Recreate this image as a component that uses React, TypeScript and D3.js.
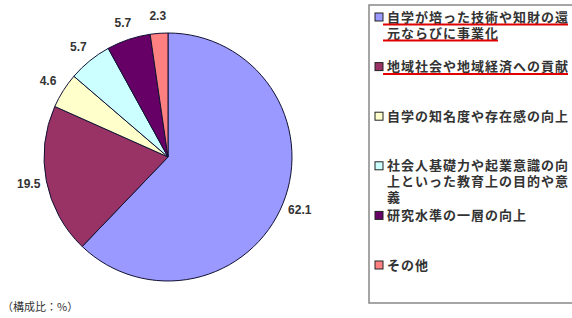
import React, { useEffect, useRef } from "react";
import * as d3 from "d3";

// values in the order they run clockwise from 12 o'clock
const shares = [62.1, 19.5, 4.6, 5.7, 5.7, 2.3];
const labels = ["62.1", "19.5", "4.6", "5.7", "5.7", "2.3"];
const colors = ["#9999ff", "#993366", "#ffffcc", "#ccffff", "#660066", "#ff8080"];
const legendLines = [
  ["自学が培った技術や知財の還", "元ならびに事業化"],
  ["地域社会や地域経済への貢献"],
  ["自学の知名度や存在感の向上"],
  ["社会人基礎力や起業意識の向", "上といった教育上の目的や意", "義"],
  ["研究水準の一層の向上"],
  ["その他"],
];
const highlighted = [true, true, false, false, false, false];
const unitNote = "（構成比：%）";

export default function App() {
  const ref = useRef<SVGSVGElement>(null);

  useEffect(() => {
    var svg = d3.select(ref.current);
    svg.selectAll("*").remove();

    var cx = 168, cy = 157, r = 124;
    var font = "'Noto Sans CJK JP', 'Liberation Sans', Arial, sans-serif";

    var pie = d3.pie<number>().sort(null).value(function (d) { return d; });
    var arcs = pie(shares);
    var arc = d3.arc<d3.PieArcDatum<number>>().innerRadius(0).outerRadius(r);
    var labelArc = d3.arc<d3.PieArcDatum<number>>().innerRadius(142).outerRadius(142);

    var g = svg.append("g").attr("transform", "translate(" + cx + "," + cy + ")");

    g.selectAll("path.slice")
      .data(arcs)
      .enter().append("path")
      .attr("class", "slice")
      .attr("d", arc)
      .attr("fill", function (d, i) { return colors[i]; })
      .attr("stroke", "#111133")
      .attr("stroke-width", 1);

    g.selectAll("text.lbl")
      .data(arcs)
      .enter().append("text")
      .attr("class", "lbl")
      .attr("transform", function (d) { return "translate(" + labelArc.centroid(d) + ")"; })
      .attr("text-anchor", "middle")
      .attr("dy", "0.35em")
      .attr("font-family", "'Liberation Sans', Arial, sans-serif")
      .attr("font-size", 12)
      .attr("font-weight", "bold")
      .attr("fill", "#333")
      .text(function (d, i) { return labels[i]; });

    // note under the pie
    svg.append("text")
      .attr("x", 2)
      .attr("y", 311)
      .attr("font-family", font)
      .attr("font-size", 11)
      .attr("fill", "#333")
      .text(unitNote);

    // Legend
    svg.append("rect")
      .attr("x", 369)
      .attr("y", 5)
      .attr("width", 220)
      .attr("height", 298)
      .attr("fill", "#fff")
      .attr("stroke", "#888")
      .attr("stroke-width", 1.5);

    var itemY = d3.scaleLinear().domain([0, legendLines.length - 1]).range([17, 265]);
    var lineStep = 16;

    var items = svg.selectAll("g.item")
      .data(legendLines)
      .enter().append("g")
      .attr("class", "item")
      .attr("transform", function (d, i) { return "translate(0," + itemY(i) + ")"; });

    items.append("rect")
      .attr("x", 375)
      .attr("y", -4)
      .attr("width", 8)
      .attr("height", 8)
      .attr("fill", function (d, i) { return colors[i]; })
      .attr("stroke", "#222")
      .attr("stroke-width", 1);

    items.each(function (lines, i) {
      var item = d3.select(this);
      lines.forEach(function (line, j) {
        var t = item.append("text")
          .attr("x", 387)
          .attr("y", j * lineStep)
          .attr("dy", "0.35em")
          .attr("font-family", font)
          .attr("font-size", 13)
          .attr("letter-spacing", 1)
          .attr("font-weight", "bold")
          .attr("fill", "#333")
          .text(line);
        if (highlighted[i]) {
          var w = (t.node() as SVGTextElement).getComputedTextLength();
          item.append("line")
            .attr("x1", 383)
            .attr("x2", 386 + w)
            .attr("y1", j * lineStep + 7.5)
            .attr("y2", j * lineStep + 7.5)
            .attr("stroke", "#e00000")
            .attr("stroke-width", 2);
        }
      });
    });
  }, []);

  return (
    <svg ref={ref} width={572} height={318}
      style={{ position: "absolute", left: 0, top: 0, background: "#fff" }}></svg>
  );
}
